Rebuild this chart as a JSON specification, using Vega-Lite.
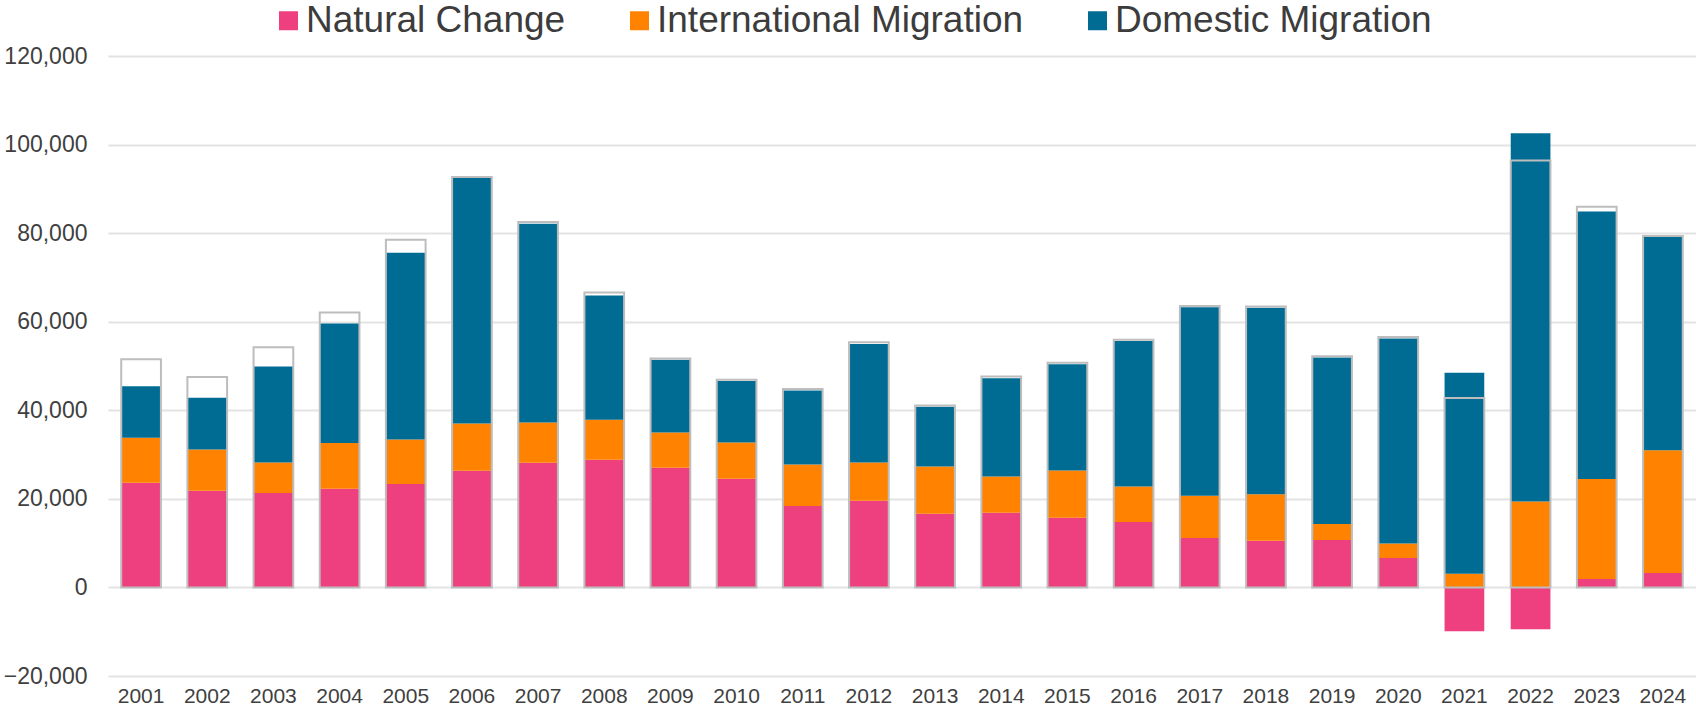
{
  "$schema": "https://vega.github.io/schema/vega-lite/v6.json",
  "autosize": "none",
  "width": 1588,
  "height": 620,
  "padding": {"left": 108, "top": 56, "right": 0, "bottom": 34},
  "background": "white",
  "config": {
    "font": "Liberation Sans",
    "view": {"stroke": null}
  },
  "datasets": {
    "parts": [
      {"year": "2001", "series": "Natural Change", "k": 1, "value": 23640},
      {"year": "2001", "series": "International Migration", "k": 2, "value": 10160},
      {"year": "2001", "series": "Domestic Migration", "k": 3, "value": 11650},
      {"year": "2002", "series": "Natural Change", "k": 1, "value": 21830},
      {"year": "2002", "series": "International Migration", "k": 2, "value": 9330},
      {"year": "2002", "series": "Domestic Migration", "k": 3, "value": 11670},
      {"year": "2003", "series": "Natural Change", "k": 1, "value": 21300},
      {"year": "2003", "series": "International Migration", "k": 2, "value": 6930},
      {"year": "2003", "series": "Domestic Migration", "k": 3, "value": 21670},
      {"year": "2004", "series": "Natural Change", "k": 1, "value": 22280},
      {"year": "2004", "series": "International Migration", "k": 2, "value": 10310},
      {"year": "2004", "series": "Domestic Migration", "k": 3, "value": 27020},
      {"year": "2005", "series": "Natural Change", "k": 1, "value": 23330},
      {"year": "2005", "series": "International Migration", "k": 2, "value": 10090},
      {"year": "2005", "series": "Domestic Migration", "k": 3, "value": 42180},
      {"year": "2006", "series": "Natural Change", "k": 1, "value": 26340},
      {"year": "2006", "series": "International Migration", "k": 2, "value": 10690},
      {"year": "2006", "series": "Domestic Migration", "k": 3, "value": 55500},
      {"year": "2007", "series": "Natural Change", "k": 1, "value": 28150},
      {"year": "2007", "series": "International Migration", "k": 2, "value": 9110},
      {"year": "2007", "series": "Domestic Migration", "k": 3, "value": 44860},
      {"year": "2008", "series": "Natural Change", "k": 1, "value": 28830},
      {"year": "2008", "series": "International Migration", "k": 2, "value": 9030},
      {"year": "2008", "series": "Domestic Migration", "k": 3, "value": 28070},
      {"year": "2009", "series": "Natural Change", "k": 1, "value": 27020},
      {"year": "2009", "series": "International Migration", "k": 2, "value": 7980},
      {"year": "2009", "series": "Domestic Migration", "k": 3, "value": 16410},
      {"year": "2010", "series": "Natural Change", "k": 1, "value": 24540},
      {"year": "2010", "series": "International Migration", "k": 2, "value": 8200},
      {"year": "2010", "series": "Domestic Migration", "k": 3, "value": 13850},
      {"year": "2011", "series": "Natural Change", "k": 1, "value": 18360},
      {"year": "2011", "series": "International Migration", "k": 2, "value": 9410},
      {"year": "2011", "series": "Domestic Migration", "k": 3, "value": 16710},
      {"year": "2012", "series": "Natural Change", "k": 1, "value": 19570},
      {"year": "2012", "series": "International Migration", "k": 2, "value": 8660},
      {"year": "2012", "series": "Domestic Migration", "k": 3, "value": 26710},
      {"year": "2013", "series": "Natural Change", "k": 1, "value": 16640},
      {"year": "2013", "series": "International Migration", "k": 2, "value": 10680},
      {"year": "2013", "series": "Domestic Migration", "k": 3, "value": 13480},
      {"year": "2014", "series": "Natural Change", "k": 1, "value": 16870},
      {"year": "2014", "series": "International Migration", "k": 2, "value": 8190},
      {"year": "2014", "series": "Domestic Migration", "k": 3, "value": 22200},
      {"year": "2015", "series": "Natural Change", "k": 1, "value": 15740},
      {"year": "2015", "series": "International Migration", "k": 2, "value": 10680},
      {"year": "2015", "series": "Domestic Migration", "k": 3, "value": 24000},
      {"year": "2016", "series": "Natural Change", "k": 1, "value": 14750},
      {"year": "2016", "series": "International Migration", "k": 2, "value": 8060},
      {"year": "2016", "series": "Domestic Migration", "k": 3, "value": 32810},
      {"year": "2017", "series": "Natural Change", "k": 1, "value": 11170},
      {"year": "2017", "series": "International Migration", "k": 2, "value": 9530},
      {"year": "2017", "series": "Domestic Migration", "k": 3, "value": 42570},
      {"year": "2018", "series": "Natural Change", "k": 1, "value": 10530},
      {"year": "2018", "series": "International Migration", "k": 2, "value": 10530},
      {"year": "2018", "series": "Domestic Migration", "k": 3, "value": 42120},
      {"year": "2019", "series": "Natural Change", "k": 1, "value": 10710},
      {"year": "2019", "series": "International Migration", "k": 2, "value": 3630},
      {"year": "2019", "series": "Domestic Migration", "k": 3, "value": 37590},
      {"year": "2020", "series": "Natural Change", "k": 1, "value": 6630},
      {"year": "2020", "series": "International Migration", "k": 2, "value": 3270},
      {"year": "2020", "series": "Domestic Migration", "k": 3, "value": 46290},
      {"year": "2021", "series": "Natural Change", "k": 1, "value": -9900},
      {"year": "2021", "series": "International Migration", "k": 2, "value": 3090},
      {"year": "2021", "series": "Domestic Migration", "k": 3, "value": 45390},
      {"year": "2022", "series": "Natural Change", "k": 1, "value": -9440},
      {"year": "2022", "series": "International Migration", "k": 2, "value": 19430},
      {"year": "2022", "series": "Domestic Migration", "k": 3, "value": 83150},
      {"year": "2023", "series": "Natural Change", "k": 1, "value": 1910},
      {"year": "2023", "series": "International Migration", "k": 2, "value": 22600},
      {"year": "2023", "series": "Domestic Migration", "k": 3, "value": 60370},
      {"year": "2024", "series": "Natural Change", "k": 1, "value": 3270},
      {"year": "2024", "series": "International Migration", "k": 2, "value": 27690},
      {"year": "2024", "series": "Domestic Migration", "k": 3, "value": 48200}
    ],
    "totals": [
      {"year": "2001", "total": 51550},
      {"year": "2002", "total": 47490},
      {"year": "2003", "total": 54260},
      {"year": "2004", "total": 62100},
      {"year": "2005", "total": 78500},
      {"year": "2006", "total": 92650},
      {"year": "2007", "total": 82490},
      {"year": "2008", "total": 66610},
      {"year": "2009", "total": 51710},
      {"year": "2010", "total": 46890},
      {"year": "2011", "total": 44780},
      {"year": "2012", "total": 55390},
      {"year": "2013", "total": 41100},
      {"year": "2014", "total": 47640},
      {"year": "2015", "total": 50730},
      {"year": "2016", "total": 55930},
      {"year": "2017", "total": 63550},
      {"year": "2018", "total": 63450},
      {"year": "2019", "total": 52200},
      {"year": "2020", "total": 56560},
      {"year": "2021", "total": 42760},
      {"year": "2022", "total": 96410},
      {"year": "2023", "total": 85970},
      {"year": "2024", "total": 79340}
    ]
  },
  "encoding": {
    "x": {
      "field": "year",
      "type": "ordinal",
      "scale": {"paddingInner": 0.4, "paddingOuter": 0.2},
      "axis": {
        "title": null,
        "labelAngle": 0,
        "labelFontSize": 21,
        "labelColor": "#404040",
        "labelPadding": 9,
        "domain": false,
        "ticks": false,
        "grid": false
      }
    }
  },
  "layer": [
    {
      "data": {"name": "parts"},
      "mark": {"type": "bar"},
      "encoding": {
        "y": {
          "field": "value",
          "type": "quantitative",
          "stack": "zero",
          "scale": {"domain": [-20000, 120000], "nice": false},
          "axis": {
            "title": null,
            "values": [-20000, 0, 20000, 40000, 60000, 80000, 100000, 120000],
            "format": ",d",
            "formatType": "number",
            "labelFontSize": 23,
            "labelColor": "#404040",
            "labelPadding": 21,
            "domain": false,
            "ticks": false,
            "grid": true,
            "gridColor": "#e3e3e3",
            "gridWidth": 2
          }
        },
        "color": {
          "field": "series",
          "type": "nominal",
          "scale": {
            "domain": ["Natural Change", "International Migration", "Domestic Migration"],
            "range": ["#EE3F7F", "#FF8300", "#006C93"]
          },
          "legend": {
            "title": null,
            "orient": "none",
            "legendX": 162,
            "legendY": -54,
            "direction": "horizontal",
            "symbolType": "square",
            "symbolSize": 361,
            "symbolStrokeWidth": 0,
            "labelFontSize": 37,
            "labelColor": "#3c3c3c",
            "labelOffset": -1,
            "labelLimit": 1000,
            "columnPadding": 55,
            "padding": 0
          }
        },
        "order": {"field": "k", "type": "quantitative"}
      }
    },
    {
      "data": {"name": "totals"},
      "mark": {"type": "bar", "filled": false, "stroke": "#BDBDBD", "strokeWidth": 2},
      "encoding": {
        "y": {
          "field": "total",
          "type": "quantitative",
          "axis": {
            "title": null,
            "values": [-20000, 0, 20000, 40000, 60000, 80000, 100000, 120000],
            "format": ",d",
            "formatType": "number",
            "labelFontSize": 23,
            "labelColor": "#404040",
            "labelPadding": 21,
            "domain": false,
            "ticks": false,
            "grid": true,
            "gridColor": "#e3e3e3",
            "gridWidth": 2
          }
        }
      }
    },
    {
      "mark": {"type": "rule", "color": "#dedede", "strokeWidth": 3},
      "encoding": {
        "y": {
          "datum": 0,
          "type": "quantitative",
          "axis": {
            "title": null,
            "values": [-20000, 0, 20000, 40000, 60000, 80000, 100000, 120000],
            "format": ",d",
            "formatType": "number",
            "labelFontSize": 23,
            "labelColor": "#404040",
            "labelPadding": 21,
            "domain": false,
            "ticks": false,
            "grid": true,
            "gridColor": "#e3e3e3",
            "gridWidth": 2
          }
        }
      }
    }
  ]
}
